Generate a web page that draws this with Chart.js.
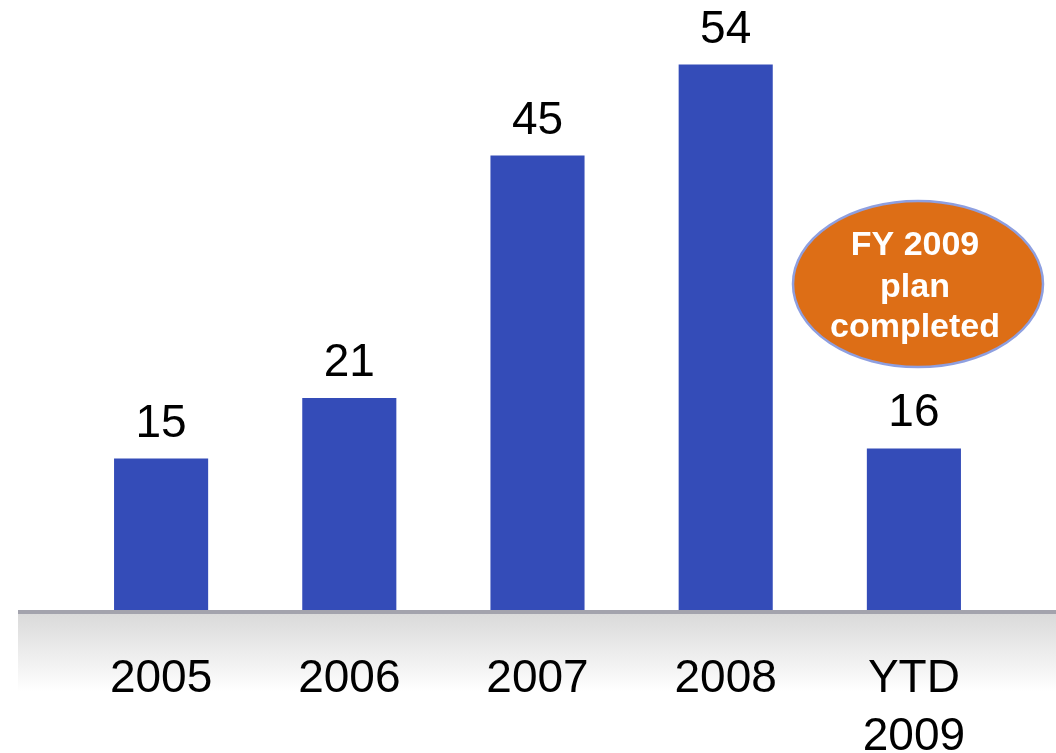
<!DOCTYPE html>
<html>
<head>
<meta charset="utf-8">
<script src="https://cdn.jsdelivr.net/npm/chart.js@4.4.0/dist/chart.umd.min.js"></script>
<style>
  html, body { margin: 0; padding: 0; background: #ffffff; }
  #wrap { width: 1056px; height: 753px; position: relative; }
</style>
</head>
<body>
<div id="wrap"><canvas id="c" width="1056" height="753"></canvas></div>
<script>
const categories = [['2005'], ['2006'], ['2007'], ['2008'], ['YTD', '2009']];
const values = [15, 21, 45, 54, 16];
const calloutLines = ['FY 2009', 'plan', 'completed'];

const FONT = "'Liberation Sans', Arial, Helvetica, sans-serif";

const floorPlugin = {
  id: 'floor',
  beforeDraw(chart) {
    const ctx = chart.ctx;
    const y0 = chart.scales.y.getPixelForValue(0);
    ctx.save();
    const g = ctx.createLinearGradient(0, y0, 0, y0 + 82);
    g.addColorStop(0, '#d8d8d8');
    g.addColorStop(1, '#ffffff');
    ctx.fillStyle = g;
    ctx.fillRect(18, y0, 1056 - 18, 82);
    ctx.restore();
  },
  afterDatasetsDraw(chart) {
    const ctx = chart.ctx;
    const y0 = chart.scales.y.getPixelForValue(0);
    ctx.save();
    ctx.fillStyle = '#a3a3ad';
    ctx.fillRect(18, y0, 1056 - 18, 4);
    ctx.restore();
  }
};

const labelPlugin = {
  id: 'valueLabels',
  afterDatasetsDraw(chart) {
    const ctx = chart.ctx;
    const meta = chart.getDatasetMeta(0);
    ctx.save();
    ctx.font = '46px ' + FONT;
    ctx.fillStyle = '#000000';
    ctx.textAlign = 'center';
    ctx.textBaseline = 'alphabetic';
    meta.data.forEach((bar, i) => {
      ctx.fillText(String(values[i]), bar.x, bar.y - 22);
    });
    ctx.restore();
  },
  afterDraw(chart) {
    const ctx = chart.ctx;
    ctx.save();
    ctx.beginPath();
    ctx.ellipse(918, 284, 125, 83, 0, 0, Math.PI * 2);
    ctx.fillStyle = '#dd6e16';
    ctx.fill();
    ctx.lineWidth = 2.5;
    ctx.strokeStyle = '#8e9fe0';
    ctx.stroke();
    ctx.fillStyle = '#ffffff';
    ctx.font = 'bold 34px ' + FONT;
    ctx.textAlign = 'center';
    ctx.textBaseline = 'alphabetic';
    const baselines = [255, 297, 337];
    calloutLines.forEach((t, i) => ctx.fillText(t, 915, baselines[i]));
    ctx.restore();
  }
};

new Chart(document.getElementById('c'), {
  type: 'bar',
  data: {
    labels: categories,
    datasets: [{
      data: values,
      backgroundColor: '#344cb8',
      borderWidth: 0,
      barPercentage: 0.5,
      categoryPercentage: 1.0
    }]
  },
  options: {
    responsive: false,
    animation: false,
    layout: { padding: { left: 67, right: 48, top: 4, bottom: 0 } },
    plugins: { legend: { display: false }, tooltip: { enabled: false } },
    scales: {
      x: {
        grid: { display: false, drawTicks: false },
        border: { display: false },
        ticks: {
          color: '#000000',
          font: { family: FONT, size: 46, lineHeight: 1.26 },
          padding: 40,
          maxRotation: 0,
          autoSkip: false
        },
        afterFit(scale) { scale.height = 143; }
      },
      y: {
        display: false,
        min: 0,
        max: 60
      }
    }
  },
  plugins: [floorPlugin, labelPlugin]
});
</script>
</body>
</html>
